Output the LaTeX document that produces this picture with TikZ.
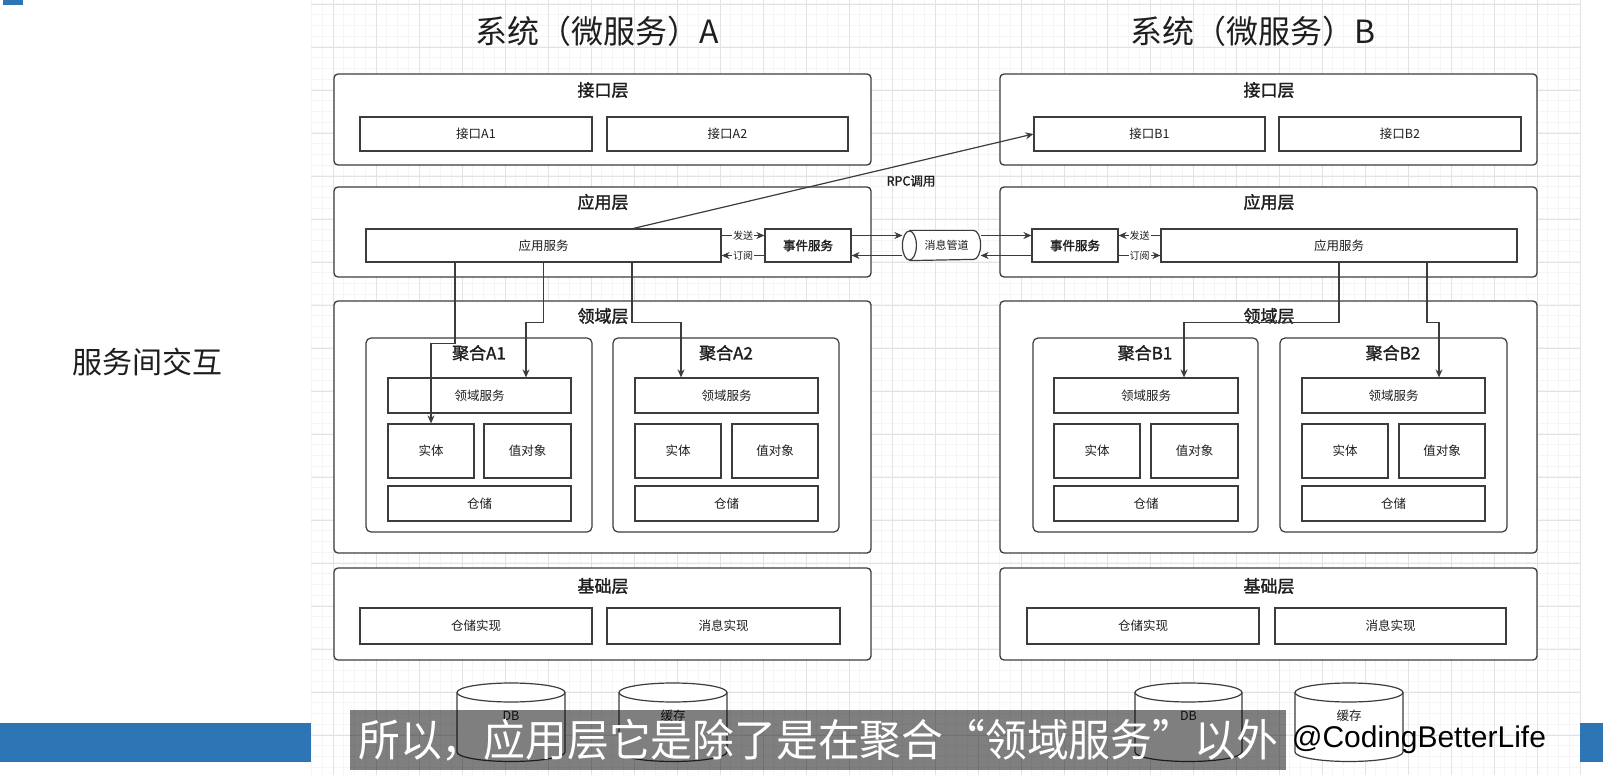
\documentclass[tikz,border=0pt]{standalone}
\usepackage{fontspec}
\setmainfont{Noto Sans CJK SC}
\newfontfamily\cjkb{Noto Sans CJK SC}[FakeBold=1.6]
\newfontfamily\lat{Liberation Sans}
\usetikzlibrary{arrows.meta,calc}
\definecolor{ln}{HTML}{3C3C3C}
\definecolor{txt}{HTML}{1E1E1E}
\definecolor{barblue}{RGB}{46,117,182}
\definecolor{gminor}{HTML}{F5F5F5}
\definecolor{gmajor}{HTML}{E3E3E3}
\newcommand\mkbox[7]{%
  \pgfmathsetmacro\myW{#4-#2}\pgfmathsetmacro\myH{#5-#3}%
  \pgfmathsetmacro\myX{(#2+#4)/2}\pgfmathsetmacro\myY{(#3+#5)/2}%
  \node[#6,minimum width=\myW pt,minimum height=\myH pt] (#1) at (\myX,\myY) {#7};}
\newcommand\mkcyl[5]{% name, x1, x2, label, top y
  \pgfmathsetmacro\myX{(#2+#3)/2}\pgfmathsetmacro\myR{(#3-#2)/2}%
  \draw[ln,line width=1.2pt,fill=white] (#2,#5+9.5) -- (#2,752) arc[start angle=180,end angle=0,x radius=\myR,y radius=9.5] -- (#3,#5+9.5);
  \draw[ln,line width=1.2pt,fill=white] (\myX,#5+9.5) ellipse[x radius=\myR,y radius=9.5];
  \node[leaf,draw=none] (#1) at (\myX,716) {#4};}
\begin{document}
\begin{tikzpicture}[x=1pt,y=-1pt,
  layer/.style={draw=ln,line width=1.3pt,rounded corners=4pt,inner sep=0pt,fill=white},
  agg/.style={draw=ln,line width=1.2pt,rounded corners=5pt,inner sep=0pt},
  leaf/.style={draw=ln,line width=1.2pt,inner sep=0pt,text=txt,font=\fontsize{12.5}{14}\selectfont},
  leafb/.style={leaf,font=\cjkb\fontsize{12.5}{14}\selectfont},
  ltitle/.style={inner sep=0pt,text=txt,font=\cjkb\fontsize{17}{20}\selectfont},
  conn/.style={draw=ln,line width=1.2pt,-{Stealth[length=8pt,width=7pt]}},
  lab/.style={fill=white,inner sep=1pt,text=txt,font=\fontsize{10}{11}\selectfont},
  bigtitle/.style={inner sep=0pt,text=txt,font=\fontsize{32}{36}\selectfont}]
\useasboundingbox (0,0) rectangle (1603,775);
\fill[white] (0,0) rectangle (1603,775);
% canvas grid
\foreach \gx in {311.5,322.25,...,1580} {\draw[gminor,line width=0.6pt] (\gx,0) -- (\gx,775);}
\foreach \gy in {3.75,14.5,...,775} {\draw[gminor,line width=0.6pt] (311,\gy) -- (1580,\gy);}
\foreach \gx in {333,376,...,1580} {\draw[gmajor,line width=0.8pt] (\gx,0) -- (\gx,775);}
\foreach \gy in {4,47,...,775} {\draw[gmajor,line width=0.8pt] (311,\gy) -- (1580,\gy);}
\fill[barblue] (3,0) rectangle (23,5);
% titles
\node[bigtitle] (tA) at (597,31) {系统（微服务）A};
\node[bigtitle] (tB) at (1253,31) {系统（微服务）B};
\node[inner sep=0pt,text=txt,font=\fontsize{30}{34}\selectfont] (side) at (147,362) {服务间交互};
% ===== System A =====
\mkbox{ifA}{334}{74}{871}{165}{layer}{}
\node[ltitle] (ifAt) at (603,90) {接口层};
\mkbox{ifA1}{360}{117}{592}{151}{leaf}{接口A1}
\mkbox{ifA2}{607}{117}{848}{151}{leaf}{接口A2}
\mkbox{apA}{334}{187}{871}{277}{layer}{}
\node[ltitle] (apAt) at (603,202) {应用层};
\mkbox{asA}{366}{229}{721}{262}{leaf}{应用服务}
\mkbox{evA}{765}{229}{851}{262}{leafb}{事件服务}
\mkbox{dmA}{334}{301}{871}{553}{layer}{}
\node[ltitle] (dmAt) at (603,316) {领域层};
\mkbox{agA1}{366}{338}{592}{532}{agg}{}
\node[ltitle] (agA1t) at (479,353) {聚合A1};
\mkbox{dsA1}{388}{378}{571}{413}{leaf}{领域服务}
\mkbox{etA1}{388}{424}{474}{478}{leaf}{实体}
\mkbox{voA1}{484}{424}{571}{478}{leaf}{值对象}
\mkbox{rpA1}{388}{486}{571}{521}{leaf}{仓储}
\mkbox{agA2}{613}{338}{839}{532}{agg}{}
\node[ltitle] (agA2t) at (726,353) {聚合A2};
\mkbox{dsA2}{635}{378}{818}{413}{leaf}{领域服务}
\mkbox{etA2}{635}{424}{721}{478}{leaf}{实体}
\mkbox{voA2}{732}{424}{818}{478}{leaf}{值对象}
\mkbox{rpA2}{635}{486}{818}{521}{leaf}{仓储}
\mkbox{bsA}{334}{568}{871}{660}{layer}{}
\node[ltitle] (bsAt) at (603,586) {基础层};
\mkbox{riA}{360}{608}{592}{644}{leaf}{仓储实现}
\mkbox{miA}{607}{608}{840}{644}{leaf}{消息实现}
% ===== System B =====
\mkbox{ifB}{1000}{74}{1537}{165}{layer}{}
\node[ltitle] (ifBt) at (1269,90) {接口层};
\mkbox{ifB1}{1034}{117}{1265}{151}{leaf}{接口B1}
\mkbox{ifB2}{1279}{117}{1521}{151}{leaf}{接口B2}
\mkbox{apB}{1000}{187}{1537}{277}{layer}{}
\node[ltitle] (apBt) at (1269,202) {应用层};
\mkbox{evB}{1032}{229}{1118}{262}{leafb}{事件服务}
\mkbox{asB}{1161}{229}{1517}{262}{leaf}{应用服务}
\mkbox{dmB}{1000}{301}{1537}{553}{layer}{}
\node[ltitle] (dmBt) at (1269,316) {领域层};
\mkbox{agB1}{1033}{338}{1258}{532}{agg}{}
\node[ltitle] (agB1t) at (1145,353) {聚合B1};
\mkbox{dsB1}{1054}{378}{1238}{413}{leaf}{领域服务}
\mkbox{etB1}{1054}{424}{1140}{478}{leaf}{实体}
\mkbox{voB1}{1151}{424}{1238}{478}{leaf}{值对象}
\mkbox{rpB1}{1054}{486}{1238}{521}{leaf}{仓储}
\mkbox{agB2}{1280}{338}{1507}{532}{agg}{}
\node[ltitle] (agB2t) at (1393,353) {聚合B2};
\mkbox{dsB2}{1302}{378}{1485}{413}{leaf}{领域服务}
\mkbox{etB2}{1302}{424}{1388}{478}{leaf}{实体}
\mkbox{voB2}{1399}{424}{1485}{478}{leaf}{值对象}
\mkbox{rpB2}{1302}{486}{1485}{521}{leaf}{仓储}
\mkbox{bsB}{1000}{568}{1537}{660}{layer}{}
\node[ltitle] (bsBt) at (1269,586) {基础层};
\mkbox{riB}{1027}{608}{1259}{644}{leaf}{仓储实现}
\mkbox{miB}{1275}{608}{1506}{644}{leaf}{消息实现}
% ===== message pipe =====
\mkbox{mq}{903}{231}{980}{260}{leaf,draw=none,fill=white,font=\fontsize{11}{12}\selectfont}{\hspace*{10pt}消息管道}
\draw[ln,line width=1.2pt] ($(mq.north west)+(7,0)$) -- ($(mq.north east)+(-7,0)$)
   arc[start angle=-90,end angle=90,x radius=7,y radius=14.5] -- ($(mq.south west)+(7,0)$);
\draw[ln,line width=1.2pt] ($(mq.west)+(7,0)$) ellipse[x radius=7,y radius=14.5];
% ===== connectors =====
\draw[conn] ([yshift=10pt]asA.east) -- node[lab] {发送} ([yshift=10pt]evA.west);
\draw[conn] ([yshift=-10pt]evA.west) -- node[lab] {订阅} ([yshift=-10pt]asA.east);
\draw[conn] ([yshift=10pt]asB.west) -- node[lab] {发送} ([yshift=10pt]evB.east);
\draw[conn] ([yshift=-10pt]evB.east) -- node[lab] {订阅} ([yshift=-10pt]asB.west);
\draw[conn] ([yshift=10pt]evA.east) -- ([yshift=10pt]mq.west);
\draw[conn] ([yshift=10pt]mq.east) -- ([yshift=10pt]evB.west);
\draw[conn] ([yshift=-10pt]evB.west) -- ([yshift=-10pt]mq.east);
\draw[conn] ([yshift=-10pt]mq.west) -- ([yshift=-10pt]evA.east);
\draw[conn] ([xshift=90pt]asA.north) -- (ifB1.west);
\node[inner sep=0pt,text=txt,font=\cjkb\fontsize{12.5}{14}\selectfont] (rpc) at (911,181) {RPC调用};
\draw[conn] ([xshift=-88.5pt]asA.south) -- ++(0,81) -| (etA1.north);
\draw[conn] (asA.south) -- ++(0,60) -| ([xshift=46.5pt]dsA1.north);
\draw[conn] ([xshift=88.5pt]asA.south) -- ++(0,60) -| ([xshift=-45.5pt]dsA2.north);
\draw[conn] (asB.south) -- ++(0,60) -| ([xshift=38pt]dsB1.north);
\draw[conn] ([xshift=88pt]asB.south) -- ++(0,60) -| ([xshift=45.5pt]dsB2.north);
% ===== storage =====
\mkcyl{dbA}{457}{565}{DB}{683}
\mkcyl{caA}{619}{727}{缓存}{683}
\mkcyl{dbB}{1135}{1242}{DB}{683}
\mkcyl{caB}{1295}{1403}{缓存}{683}
% ===== video overlay =====
\fill[barblue] (0,723) rectangle (311,762);
\fill[barblue] (1580,723) rectangle (1603,762);
\fill[black,opacity=0.5] (350,710) rectangle (1286,770);
\node[inner sep=0pt,text=white,font=\fontsize{44}{48}\selectfont] (sub) at (818,740) {\scalebox{0.95}[1]{所以，应用层它是除了是在聚合“领域服务”以外}};
\node[inner sep=0pt,text=black,font=\lat\fontsize{30}{34}\selectfont] (handle) at (1419,740) {@CodingBetterLife};
\end{tikzpicture}
\end{document}
